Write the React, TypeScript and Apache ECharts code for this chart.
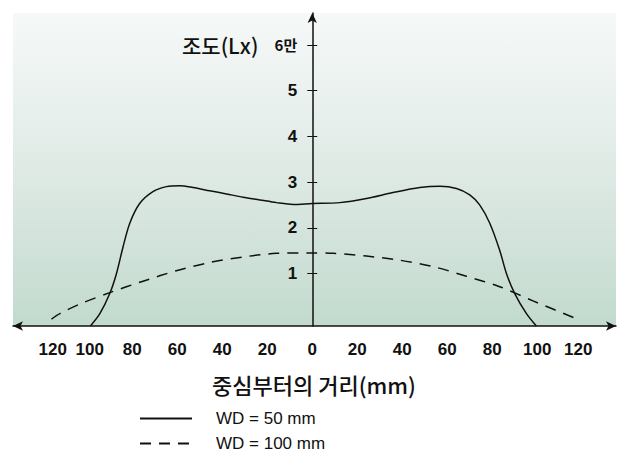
import React, { useEffect, useRef } from "react";
import * as echarts from "echarts";

// WD = 50 mm (solid)
const solidX = [-98.6, -94.4, -90, -87, -84.1, -81.1, -76.7, -70.8, -64.8, -58.9, -53, -45.6, -38.1, -30.8, -23.3, -15.9, -8.5, 0, 12.2, 24.1, 35.9, 47.8, 56.7, 64.1, 70, 74.4, 78.9, 83.3, 86.3, 90, 95.2, 99.6];
const solidY = [-0.15, 0.12, 0.56, 1.0, 1.58, 2.1, 2.53, 2.79, 2.9, 2.92, 2.88, 2.81, 2.74, 2.67, 2.61, 2.55, 2.51, 2.53, 2.55, 2.64, 2.77, 2.88, 2.91, 2.86, 2.72, 2.5, 2.1, 1.51, 1.0, 0.56, 0.12, -0.15];
// WD = 100 mm (dashed)
const dashX = [-115.9, -112.2, -103.3, -90, -75.2, -60.4, -45.6, -30.8, -15.9, 0, 9.3, 24.1, 38.9, 53.7, 68.5, 83.3, 98.1, 117.9];
const dashY = [0.0, 0.12, 0.33, 0.58, 0.83, 1.06, 1.24, 1.36, 1.44, 1.45, 1.44, 1.38, 1.29, 1.15, 0.94, 0.71, 0.4, 0.0];

const xTickValues = [-120, -100, -80, -60, -40, -20, 0, 20, 40, 60, 80, 100, 120];
const yTickValues = [1, 2, 3, 4, 5, 6];
const seriesNames = ["WD = 50 mm", "WD = 100 mm"];
const yTitle = "조도(Lx)";
const xTitle = "중심부터의 거리(mm)";

const LATIN = "'Liberation Sans Narrow', 'Liberation Sans', Arial, sans-serif";
const LEG = "'Liberation Sans', Arial, sans-serif";
const CJK = "'Noto Sans CJK KR', sans-serif";

const X_MIN = -133;
const X_MAX = 135;
const GRID_LEFT = 13;
const GRID_RIGHT = 9;
const GRID_W = 625 - GRID_LEFT - GRID_RIGHT;

export default function App() {
  const ref = useRef<HTMLDivElement>(null);
  useEffect(() => {
    if (!ref.current) return;
    const chart = echarts.init(ref.current, null, { renderer: "svg" });
    const pair = (xs: number[], ys: number[]) => xs.map((x, i) => [x, ys[i]]);
    // move the y axis from the grid's left edge to x = 0
    const yOffset = -((0 - X_MIN) / (X_MAX - X_MIN)) * GRID_W;
    const yAxisBase = {
      type: "value",
      position: "left",
      offset: yOffset,
      min: -0.15,
      max: 6.7,
      splitLine: { show: false },
    };
    const labelFont = { fontSize: 17, fontFamily: LATIN, fontWeight: "bold", color: "#111" };
    const legendBase = {
      orient: "vertical",
      left: 139,
      padding: 0,
      itemWidth: 52,
      itemHeight: 14,
      itemStyle: { color: "transparent", borderWidth: 0 },
      textStyle: { fontSize: 17, fontFamily: LEG, color: "#111", padding: [0, 0, 0, 19] },
    };
    chart.setOption({
      animation: false,
      title: [
        {
          text: yTitle,
          left: 182,
          top: 34,
          padding: 0,
          textStyle: { fontSize: 21, fontFamily: CJK, fontWeight: 500, color: "#111" },
        },
        {
          text: xTitle,
          left: 212,
          top: 373,
          padding: 0,
          textStyle: { fontSize: 22, fontFamily: CJK, fontWeight: 500, color: "#111" },
        },
      ],
      legend: [
        { ...legendBase, top: 410, data: [{ name: seriesNames[0] }] },
        { ...legendBase, top: 435, data: [{ name: seriesNames[1] }] },
      ],
      grid: {
        left: GRID_LEFT,
        right: GRID_RIGHT,
        top: 13,
        bottom: 127,
        outerBoundsMode: "none",
        containLabel: false,
        show: true,
        borderWidth: 0,
        backgroundColor: new echarts.graphic.LinearGradient(0, 0, 0, 1, [
          { offset: 0, color: "#f6f9f8" },
          { offset: 0.5, color: "#dfeae5" },
          { offset: 1, color: "#c2dace" },
        ]),
      },
      xAxis: {
        type: "value",
        min: X_MIN,
        max: X_MAX,
        splitLine: { show: false },
        axisLine: {
          onZero: false,
          symbol: ["arrow", "arrow"],
          symbolSize: [7, 10],
          lineStyle: { color: "#111", width: 1.5 },
        },
        axisTick: { show: false },
        axisLabel: {
          customValues: xTickValues,
          margin: 15,
          ...labelFont,
          formatter: (v: number) => {
            if (v === -120) return "{l|120}";
            if (v === -100) return "{m|100}";
            if (v === 120) return "{r|120}";
            return String(Math.abs(v));
          },
          rich: {
            l: { ...labelFont, padding: [0, 0, 0, 21] },
            m: { ...labelFont, padding: [0, 0, 0, 5] },
            r: { ...labelFont, padding: [0, 8, 0, 0] },
          },
        },
      },
      yAxis: [
        {
          ...yAxisBase,
          axisLine: {
            show: true,
            onZero: false,
            symbol: ["none", "arrow"],
            symbolSize: [7, 10],
            lineStyle: { color: "#111", width: 1.5 },
          },
          axisTick: {
            show: true,
            customValues: yTickValues,
            length: 5,
            inside: false,
            lineStyle: { color: "#111", width: 1 },
          },
          axisLabel: {
            customValues: yTickValues,
            margin: 15,
            ...labelFont,
            formatter: (v: number) => (v === 6 ? "{a|6만}" : String(v)),
            rich: {
              a: { fontSize: 15, fontWeight: "bold", fontFamily: CJK, color: "#111" },
            },
          },
        },
        {
          ...yAxisBase,
          axisLine: { show: false, onZero: false },
          axisTick: {
            show: true,
            customValues: yTickValues,
            length: 5,
            inside: true,
            lineStyle: { color: "#111", width: 1 },
          },
          axisLabel: { show: false },
        },
      ],
      series: [
        {
          name: seriesNames[0],
          type: "line",
          data: pair(solidX, solidY),
          smooth: 0.3,
          symbol: "none",
          lineStyle: { color: "#111", width: 1.5, type: "solid" },
          itemStyle: { color: "#111" },
        },
        {
          name: seriesNames[1],
          type: "line",
          data: pair(dashX, dashY),
          smooth: 0.3,
          symbol: "none",
          lineStyle: { color: "#111", width: 1.5, type: [11, 8] },
          itemStyle: { color: "#111" },
        },
      ],
    });
    return () => chart.dispose();
  }, []);
  return <div ref={ref} style={{ width: 625, height: 453, position: "absolute", left: 0, top: 0 }} />;
}
